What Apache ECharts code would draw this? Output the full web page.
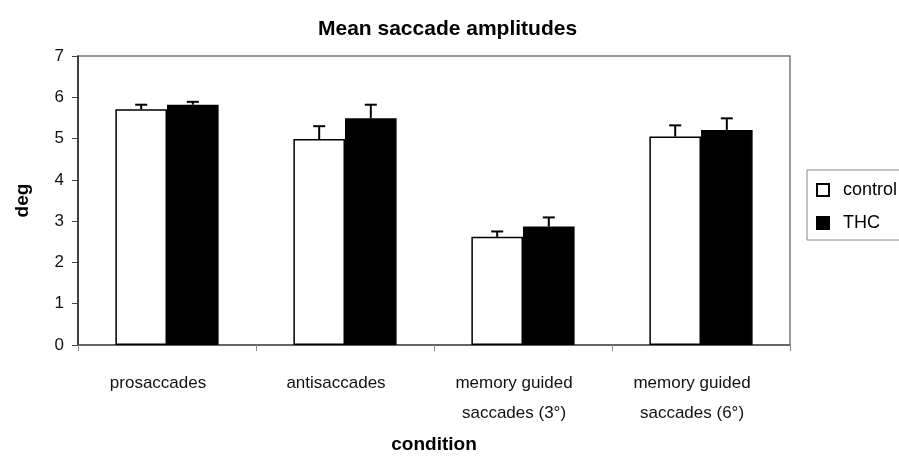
<!DOCTYPE html>
<html>
<head>
<meta charset="utf-8">
<script src="https://cdn.jsdelivr.net/npm/echarts@6/dist/echarts.min.js"></script>
<style>
  html, body { margin: 0; padding: 0; background: #fff; }
  #chart { width: 899px; height: 459px; }
</style>
</head>
<body>
<div id="chart"></div>
<script>
// data
var categories = ['prosaccades', 'antisaccades', 'memory guided\nsaccades (3°)', 'memory guided\nsaccades (6°)'];
var controlMean = [5.71, 4.99, 2.62, 5.05];
var controlErr = [0.11, 0.31, 0.13, 0.27];
var thcMean = [5.82, 5.49, 2.87, 5.21];
var thcErr = [0.07, 0.33, 0.22, 0.28];
var yTicks = [0, 1, 2, 3, 4, 5, 6, 7];

var FONT = 'Liberation Sans, Arial, sans-serif';
var BAR_W = 0.29; // share of the category band per bar

// upper whisker only, drawn above each bar
function errorSeries(name, means, errs, side) {
  return {
    type: 'custom',
    name: name + ' err',
    z: 5,
    silent: true,
    data: means.map(function (m, i) { return [i, m, m + errs[i]]; }),
    renderItem: function (params, api) {
      var band = api.size([1, 0])[0];
      var bw = band * BAR_W;
      var lo = api.coord([api.value(0), api.value(1)]);
      var hi = api.coord([api.value(0), api.value(2)]);
      var x = lo[0] + side * bw / 2;
      var style = { stroke: '#000', lineWidth: 2 };
      return {
        type: 'group',
        children: [
          { type: 'line', shape: { x1: x, y1: lo[1], x2: x, y2: hi[1] }, style: style },
          { type: 'line', shape: { x1: x - 6, y1: hi[1], x2: x + 6, y2: hi[1] }, style: style }
        ]
      };
    }
  };
}

var chart = echarts.init(document.getElementById('chart'));
chart.setOption({
  animation: false,
  textStyle: { fontFamily: FONT },
  title: {
    text: 'Mean saccade amplitudes',
    left: 313,
    top: 14,
    textStyle: { fontSize: 21, fontWeight: 'bold', color: '#000', fontFamily: FONT }
  },
  legend: {
    data: ['control', 'THC'],
    orient: 'vertical',
    left: 807,
    top: 170,
    padding: [11, 30, 8, 9],
    itemGap: 15,
    itemWidth: 12,
    itemHeight: 12,
    icon: 'rect',
    borderColor: '#888',
    borderWidth: 1,
    textStyle: { fontSize: 18, color: '#000', fontFamily: FONT, padding: [0, 0, 0, 9] }
  },
  grid: {
    left: 78, right: 109, top: 56, bottom: 107,
    show: true,
    borderColor: '#777',
    borderWidth: 1.5
  },
  xAxis: {
    type: 'category',
    data: categories,
    name: 'condition',
    nameLocation: 'middle',
    nameGap: 90,
    nameTextStyle: { fontSize: 19, fontWeight: 'bold', color: '#000' },
    axisLine: { lineStyle: { color: '#555', width: 1.5 } },
    axisTick: { show: true, length: 6, lineStyle: { color: '#888' } },
    axisLabel: {
      fontSize: 17, color: '#111', lineHeight: 30, margin: 23, interval: 0,
      padding: [0, 18, 0, 0]
    }
  },
  yAxis: {
    type: 'value',
    min: yTicks[0],
    max: yTicks[yTicks.length - 1],
    interval: 1,
    name: 'deg',
    nameLocation: 'middle',
    nameGap: 46,
    nameTextStyle: { fontSize: 19, fontWeight: 'bold', color: '#000' },
    axisLine: { show: true, lineStyle: { color: '#222', width: 1.5 } },
    axisTick: { show: true, length: 6, lineStyle: { color: '#444' } },
    axisLabel: { fontSize: 17, color: '#111', margin: 14 },
    splitLine: { show: false }
  },
  series: [
    {
      name: 'control',
      type: 'bar',
      data: controlMean,
      barWidth: (BAR_W * 100) + '%',
      barGap: '0%',
      itemStyle: { color: '#fff', borderColor: '#000', borderWidth: 1.5 }
    },
    {
      name: 'THC',
      type: 'bar',
      data: thcMean,
      barWidth: (BAR_W * 100) + '%',
      barGap: '0%',
      itemStyle: { color: '#000', borderColor: '#000', borderWidth: 1.5 }
    },
    errorSeries('control', controlMean, controlErr, -1),
    errorSeries('THC', thcMean, thcErr, 1)
  ]
});
</script>
</body>
</html>
